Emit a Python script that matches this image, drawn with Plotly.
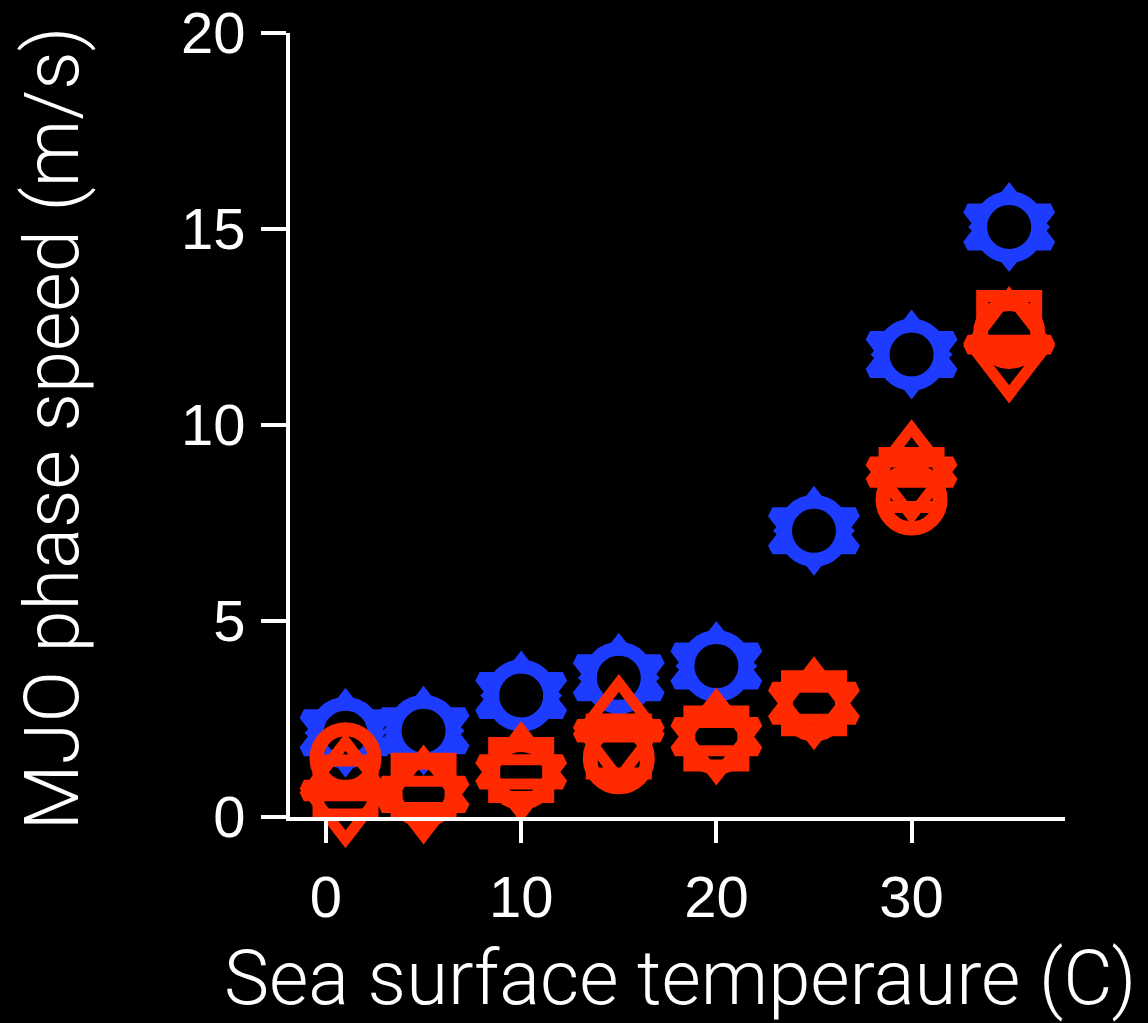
import plotly.graph_objects as go

# Data
sst = [1, 5, 10, 15, 20, 25, 30, 35]

blue_circle = [2.15, 2.2, 3.1, 3.55, 3.85, 7.3, 11.8, 15.05]
blue_diamond = [2.15, 2.2, 3.1, 3.55, 3.85, 7.3, 11.8, 15.05]
blue_tri_up = [2.15, 2.2, 3.1, 3.55, 3.85, 7.3, 11.8, 15.05]
blue_tri_down = [2.15, 2.2, 3.1, 3.55, 3.85, 7.3, 11.8, 15.05]

red_circle = [1.5, 0.65, 1.1, 1.5, 2.0, 2.85, 8.1, 12.35]
red_square = [0.75, 0.8, 1.2, 1.8, 2.0, 2.9, 8.6, 12.6]
red_tri_up = [1.0, 0.7, 1.3, 2.5, 2.15, 2.95, 9.0, 12.4]
red_tri_down = [0.35, 0.45, 1.0, 1.9, 1.95, 2.85, 8.6, 11.7]

x_ticks = [0, 10, 20, 30]
y_ticks = [0, 5, 10, 15, 20]

BLUE = "#1e3cff"
RED = "#ff2a00"
BG = "black"

fig = go.Figure()

# (name, values, line colour, symbol, size, line width, fill colour)
series = [
    ("blue triangle-down", blue_tri_down, BLUE, "triangle-down-open", 72, 11, BLUE),
    ("blue triangle-up", blue_tri_up, BLUE, "triangle-up-open", 72, 11, BLUE),
    ("blue diamond", blue_diamond, BLUE, "diamond-open", 50, 12, BLUE),
    ("blue circle", blue_circle, BLUE, "circle", 58, 14, BG),
    ("red circle", red_circle, RED, "circle-open", 58, 14, RED),
    ("red square", red_square, RED, "square-open", 54, 12, RED),
    ("red triangle-up", red_tri_up, RED, "triangle-up-open", 72, 11, RED),
    ("red triangle-down", red_tri_down, RED, "triangle-down-open", 72, 11, RED),
]

for name, ys, col, sym, sz, lw, fill in series:
    fig.add_trace(go.Scatter(
        x=sst, y=ys, mode="markers", name=name,
        marker=dict(symbol=sym, size=sz, color=fill,
                    line=dict(color=col, width=lw)),
        cliponaxis=False, showlegend=False,
    ))

tick_font = dict(family="Liberation Sans, Arial, sans-serif", size=58, color="white")

fig.update_xaxes(
    range=[-1.844, 37.86], tickvals=x_ticks, ticktext=[str(v) for v in x_ticks],
    showline=True, linecolor="white", linewidth=4,
    ticks="outside", ticklen=22, tickwidth=4, tickcolor="white",
    showgrid=False, zeroline=False, tickfont=tick_font,
    ticklabeloverflow="allow", ticklabelstandoff=4,
)
fig.update_yaxes(
    range=[0, 20], tickvals=y_ticks, ticktext=[str(v) for v in y_ticks],
    showline=True, linecolor="white", linewidth=4,
    ticks="outside", ticklen=25, tickwidth=4, tickcolor="white",
    showgrid=False, zeroline=False, tickfont=tick_font,
    ticklabeloverflow="allow", ticklabelstandoff=4,
)

title_font = dict(family="Roboto, Liberation Sans, sans-serif", size=76, color="white", weight=300)

fig.add_annotation(
    text="Sea surface temperaure (C)", xref="paper", yref="paper",
    x=0.503, y=-0.205, xanchor="center", yanchor="middle",
    showarrow=False, font=title_font,
)
fig.add_annotation(
    text="MJO phase speed (m/s)", xref="paper", yref="paper",
    x=-0.307, y=0.496, xanchor="center", yanchor="middle",
    textangle=-90, showarrow=False, font=title_font,
)

fig.update_layout(
    width=1148, height=1023,
    margin=dict(l=290, r=83, t=33, b=206, autoexpand=False),
    paper_bgcolor=BG, plot_bgcolor=BG,
)

fig.write_html(
    "out.html",
    config={"displayModeBar": False},
    post_script="document.body.style.margin='0';document.body.style.background='black';",
)
